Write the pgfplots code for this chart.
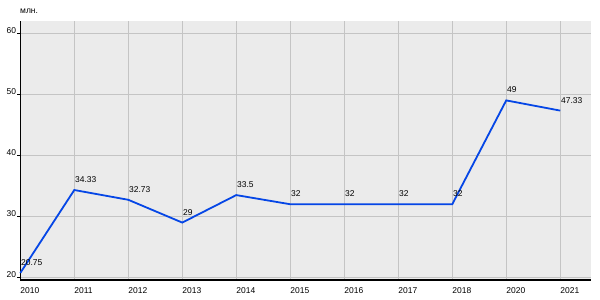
\documentclass[border=0pt]{standalone}
\usepackage{fontspec}
\setmainfont{Liberation Sans}
\usepackage{pgfplots}
\pgfplotsset{compat=1.18}
\definecolor{bg}{HTML}{EBEBEB}
\definecolor{gridc}{HTML}{C4C4C4}
\definecolor{lineblue}{HTML}{0546E6}
\pgfplotstableread{
x y lab
0 20.75 20.75
1 34.33 34.33
2 32.73 32.73
3 29 29
4 33.5 33.5
5 32 32
6 32 32
7 32 32
8 32 32
9 49 49
10 47.33 47.33
}\datatable
\begin{document}
\begin{tikzpicture}[x=1bp,y=1bp]
\begin{axis}[
  at={(20.3bp,20bp)}, anchor=south west,
  scale only axis, width=570.7bp, height=259bp,
  xmin=0, xmax=10.57, ymin=19.6, ymax=62,
  axis background/.style={fill=bg},
  axis x line*=bottom, axis y line*=left,
  axis line style={black, line width=1.2bp, -},
  grid=major, major grid style={gridc, line width=0.8bp},
  xtick={0,...,10},
  xticklabels={2010,2011,2012,2013,2014,2015,2016,2017,2018,2020,2021},
  ytick={20,30,40,50,60},
  x tick style={draw=none},
  y tick style={black, line width=0.8bp},
  tick align=outside, major tick length=3bp,
  /pgf/number format/assume math mode=true,
  tick label style={font=\fontsize{8.5}{10}\selectfont, text=black},
  xticklabel style={anchor=north west, inner xsep=0pt, inner ysep=0pt, yshift=-4bp},
  yticklabel style={anchor=east, inner sep=0pt, xshift=-1bp, yshift=3bp},
  clip=false,
]
\addplot[lineblue, line width=1.8bp, mark=none,
  nodes near coords, point meta=explicit symbolic,
  every node near coord/.style={anchor=south west, inner sep=0pt, yshift=6.5bp, xshift=0bp,
    font=\fontsize{8.5}{10}\selectfont, text=black}]
  table[x=x, y=y, meta=lab] {\datatable};
\end{axis}
\node[anchor=base west, inner sep=0pt, font=\fontsize{8.5}{10}\selectfont] at (20bp,286.5bp) {млн.};
\pgfresetboundingbox
\useasboundingbox (0,0) rectangle (600bp,300bp);
\end{tikzpicture}
\end{document}
